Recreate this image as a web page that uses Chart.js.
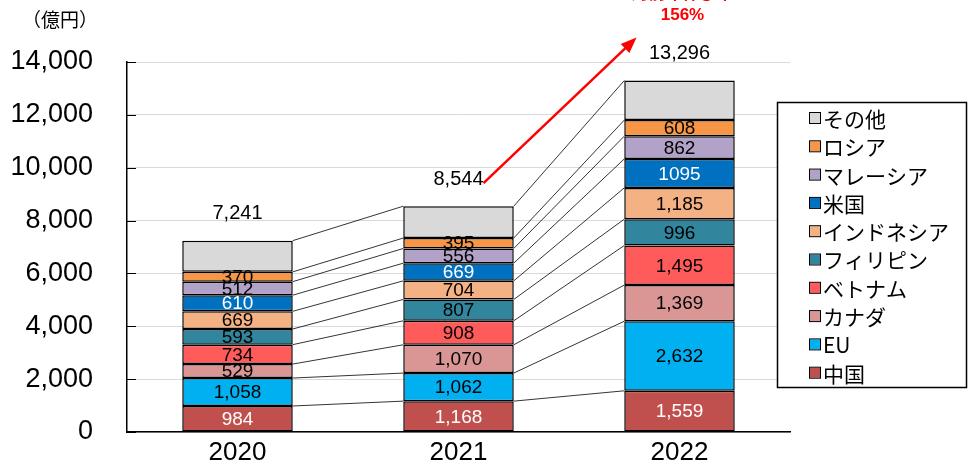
<!DOCTYPE html>
<html>
<head>
<meta charset="utf-8">
<script src="https://cdn.jsdelivr.net/npm/chart.js@4"></script>
<style>
  html, body { margin: 0; padding: 0; background: #fff; overflow: hidden; }
  canvas { display: block; }
</style>
</head>
<body>
<canvas id="chart" width="969" height="463"></canvas>
<script>
const years = ['2020', '2021', '2022'];
const china = [984, 1168, 1559];
const eu = [1058, 1062, 2632];
const canada = [529, 1070, 1369];
const vietnam = [734, 908, 1495];
const philippines = [593, 807, 996];
const indonesia = [669, 704, 1185];
const usa = [610, 669, 1095];
const malaysia = [512, 556, 862];
const russia = [370, 395, 608];
const others = [1182, 1205, 1495];
const totals = [7241, 8544, 13296];
const yTicks = [0, 2000, 4000, 6000, 8000, 10000, 12000, 14000];

const NUM = "'Liberation Sans', Arial, 'Noto Sans CJK JP', sans-serif";
const JP = "'Noto Sans CJK JP', 'Liberation Sans', sans-serif";

function ds(label, data, color, labelColor, noComma) {
  return {
    label, data, backgroundColor: color,
    borderColor: '#000', borderWidth: 1.5, borderSkipped: false,
    labelColor: labelColor || '#000', noComma: noComma || [false, false, false]
  };
}

const datasets = [
  ds('中国', china, '#c0504d', '#fff'),
  ds('EU', eu, '#00b0f0'),
  ds('カナダ', canada, '#da9694'),
  ds('ベトナム', vietnam, '#ff5b5b'),
  ds('フィリピン', philippines, '#31859c'),
  ds('インドネシア', indonesia, '#f4b183'),
  ds('米国', usa, '#0070c0', '#fff', [false, false, true]),
  ds('マレーシア', malaysia, '#b3a2c7'),
  ds('ロシア', russia, '#f79646'),
  ds('その他', others, '#d9d9d9')
];

const fmt = (v, plain) => plain ? String(v) : v.toLocaleString('en-US');

const overlay = {
  id: 'overlay',
  beforeDatasetsDraw(chart) {
    const { ctx, scales: { x, y } } = chart;
    // connector lines between stacks
    ctx.save();
    ctx.strokeStyle = '#000';
    ctx.lineWidth = 0.8;
    const half = chart.getDatasetMeta(0).data[0].width / 2;
    for (let i = 0; i < years.length - 1; i++) {
      let c1 = 0, c2 = 0;
      datasets.forEach(d => {
        c1 += d.data[i]; c2 += d.data[i + 1];
        ctx.beginPath();
        ctx.moveTo(x.getPixelForValue(i) + half, y.getPixelForValue(c1));
        ctx.lineTo(x.getPixelForValue(i + 1) - half, y.getPixelForValue(c2));
        ctx.stroke();
      });
    }
    ctx.restore();
  },
  afterDraw(chart) {
    const { ctx, scales: { x, y }, chartArea } = chart;
    ctx.save();
    // inside tick marks
    ctx.strokeStyle = '#000';
    ctx.lineWidth = 1;
    yTicks.forEach(t => {
      const py = Math.round(y.getPixelForValue(t)) + 0.5;
      ctx.beginPath();
      ctx.moveTo(chartArea.left, py);
      ctx.lineTo(chartArea.left + 9, py);
      ctx.stroke();
    });
    // segment labels
    ctx.textAlign = 'center';
    ctx.textBaseline = 'middle';
    ctx.font = '19px ' + NUM;
    datasets.forEach((d, di) => {
      chart.getDatasetMeta(di).data.forEach((bar, i) => {
        if (d.label === 'その他') return;
        ctx.fillStyle = d.labelColor;
        ctx.fillText(fmt(d.data[i], d.noComma[i]), bar.x, (bar.y + bar.base) / 2 + 1);
      });
    });
    // totals
    ctx.fillStyle = '#000';
    ctx.font = '20px ' + NUM;
    totals.forEach((t, i) => {
      ctx.fillText(fmt(t), x.getPixelForValue(i), y.getPixelForValue(t) - 27);
    });
    // growth arrow 2021 -> 2022
    const sx = x.getPixelForValue(1) + 25, sy = y.getPixelForValue(totals[1]) - 23;
    const ex = x.getPixelForValue(2) - 43, ey = y.getPixelForValue(totals[2]) - 43;
    const ang = Math.atan2(ey - sy, ex - sx);
    ctx.strokeStyle = '#ff0000';
    ctx.fillStyle = '#ff0000';
    ctx.lineWidth = 2.5;
    ctx.beginPath();
    ctx.moveTo(sx, sy);
    ctx.lineTo(ex - 12 * Math.cos(ang), ey - 12 * Math.sin(ang));
    ctx.stroke();
    ctx.beginPath();
    ctx.moveTo(ex, ey);
    ctx.lineTo(ex - 17 * Math.cos(ang - 0.38), ey - 17 * Math.sin(ang - 0.38));
    ctx.lineTo(ex - 17 * Math.cos(ang + 0.38), ey - 17 * Math.sin(ang + 0.38));
    ctx.closePath();
    ctx.fill();
    ctx.font = 'bold 17px ' + JP;
    ctx.fillText('対前年伸び率', x.getPixelForValue(2) + 3, -7);
    ctx.font = 'bold 17px ' + NUM;
    ctx.fillText('156%', x.getPixelForValue(2) + 3, 15);
    // unit
    ctx.fillStyle = '#000';
    ctx.font = '19px ' + JP;
    ctx.fillText('（億円）', 60, 20);
    // legend
    ctx.strokeStyle = '#000';
    ctx.lineWidth = 1.5;
    ctx.fillStyle = '#fff';
    ctx.fillRect(777, 102, 190, 286);
    ctx.strokeRect(777.5, 102.5, 189, 285);
    ctx.textAlign = 'left';
    ctx.font = '21px ' + JP;
    const items = datasets.slice().reverse();
    items.forEach((d, i) => {
      const cy = 118 + i * 28.3;
      ctx.fillStyle = d.backgroundColor;
      ctx.fillRect(810, cy - 5, 10, 10);
      ctx.lineWidth = 1;
      ctx.strokeRect(809.5, cy - 5.5, 11, 11);
      ctx.fillStyle = '#000';
      ctx.fillText(d.label, 823, cy + 1);
    });
    ctx.restore();
  }
};

new Chart(document.getElementById('chart'), {
  type: 'bar',
  data: { labels: years, datasets },
  options: {
    responsive: false,
    animation: false,
    layout: { padding: { left: 0, top: 62, right: 179, bottom: 0 } },
    plugins: { legend: { display: false }, tooltip: { enabled: false } },
    datasets: { bar: { categoryPercentage: 1, barPercentage: 0.5 } },
    scales: {
      x: {
        stacked: true,
        afterFit: s => { s.height = 31; s.paddingLeft = 0; s.paddingRight = 0; },
        grid: { display: false, drawTicks: false },
        border: { color: '#000', width: 1.5 },
        ticks: { color: '#000', font: { size: 26, family: NUM }, padding: 5 }
      },
      y: {
        stacked: true,
        min: 0, max: 14000,
        afterFit: s => { s.width = 127; s.paddingTop = 0; s.paddingBottom = 0; },
        afterBuildTicks: s => { s.ticks = yTicks.map(v => ({ value: v })); },
        grid: { color: '#d9d9d9', lineWidth: 1, drawTicks: false },
        border: { color: '#000', width: 1.5 },
        ticks: {
          color: '#000', padding: 34,
          font: { size: 27, family: NUM },
          callback: v => v.toLocaleString('en-US')
        }
      }
    }
  },
  plugins: [overlay]
});
</script>
</body>
</html>
